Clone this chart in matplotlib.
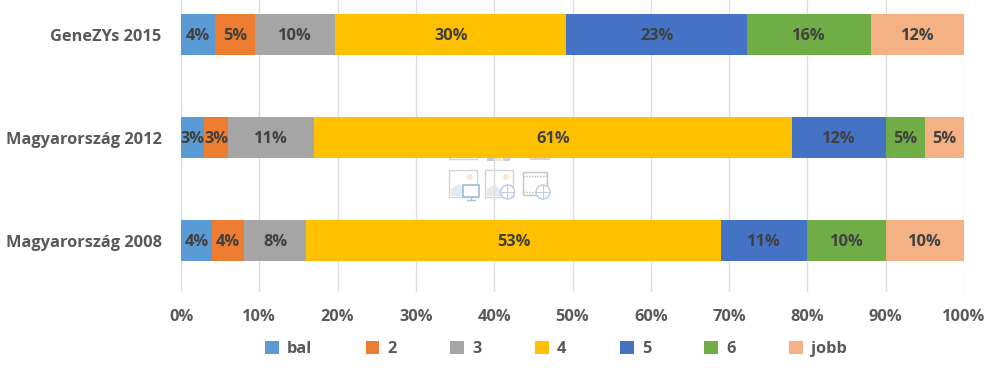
"""
Stacked 100% bars: political self placement, with the faint placeholder icons left in the picture
"""

import matplotlib
matplotlib.use('Agg')
import matplotlib.pyplot as plt
from matplotlib.patches import Rectangle, Circle, Polygon

W, H = 998, 370

categories = ['Magyarország 2008', 'Magyarország 2012', 'GeneZYs 2015']
series_names = ['bal', '2', '3', '4', '5', '6', 'jobb']
series_colors = ['#5B9BD5', '#ED7D31', '#A5A5A5', '#FFC000', '#4472C4', '#70AD47', '#F4B183']

bal = [4, 3, 4.4]
ketto = [4, 3, 5.1]
harom = [8, 11, 10.2]
negy = [53, 61, 29.5]
ot = [11, 12, 23.1]
hat = [10, 5, 15.8]
jobb = [10, 5, 11.9]
series_values = [bal, ketto, harom, negy, ot, hat, jobb]

# labels are rounded differently from the bar lengths on the top row
series_labels = [
    ['4%', '3%', '4%'],
    ['4%', '3%', '5%'],
    ['8%', '11%', '10%'],
    ['53%', '61%', '30%'],
    ['11%', '12%', '23%'],
    ['10%', '5%', '16%'],
    ['10%', '5%', '12%'],
]
x_ticks = [0, 10, 20, 30, 40, 50, 60, 70, 80, 90, 100]

plt.rcParams['font.family'] = ['Open Sans', 'DejaVu Sans']
plt.rcParams['font.weight'] = 'bold'

TEXT = '#595959'
LABEL = '#404040'
GRID = '#DEDEDE'
ICON = '#D4D4D4'
FONT_SIZE = 11.8


def draw_icons(ax):
    """Faint picture placeholders, in pixel coordinates (y down)"""
    def frame(x0, y0, x1, y1, color=ICON, fill='white', lw=1.0):
        ax.add_patch(Rectangle((x0, y0), x1 - x0, y1 - y0, fc=fill, ec=color, lw=lw))

    def picture(x0):
        frame(x0, 170, x0 + 28, 197)
        ax.add_patch(Polygon([(x0 + 2, 196), (x0 + 2, 189), (x0 + 10, 184), (x0 + 22, 196)],
                             fc='#E4E9F2', ec='none'))
        ax.add_patch(Circle((x0 + 21, 177), 3, fc='#FBE8CE', ec='none'))

    def globe(cx, cy):
        ax.add_patch(Circle((cx, cy), 7, fc='white', ec='#BCCDE0', lw=1.0))
        ax.plot([cx - 7, cx + 7], [cy, cy], color='#BCCDE0', lw=0.7)
        ax.plot([cx, cx], [cy - 7, cy + 7], color='#BCCDE0', lw=0.7)

    # top row, mostly hidden behind the bar
    frame(449, 150, 477, 159)
    ax.add_patch(Rectangle((487, 158), 7, 3, fc='#C3CBD8', ec='none'))
    ax.add_patch(Rectangle((495, 158), 7, 3, fc='#F6E6C4', ec='none'))
    ax.add_patch(Rectangle((503, 158), 7, 3, fc='#CFCFCF', ec='none'))
    ax.add_patch(Rectangle((530, 158), 20, 2, fc='#DDD5C0', ec='none'))

    picture(449)
    frame(463, 185, 479, 197, color='#A9C0D8', lw=1.3)
    ax.plot([471, 471], [197, 200], color='#A9C0D8', lw=1.0)
    ax.plot([467, 475], [200, 200], color='#A9C0D8', lw=1.0)

    picture(485)
    globe(507.5, 192)

    frame(523, 172, 547, 195, color='#C4C4C4')
    ax.plot([523, 547], [176, 176], color='#C4C4C4', lw=1.0, ls=(0, (1.2, 0.8)))
    ax.plot([523, 535], [192, 192], color='#C4C4C4', lw=1.0, ls=(0, (1.2, 0.8)))
    globe(543, 192)


fig = plt.figure(figsize=(W / 100, H / 100), dpi=100, facecolor='white')

# icon layer sits under the transparent chart axes
icons = fig.add_axes([0, 0, 1, 1], zorder=0)
icons.set_xlim(0, W)
icons.set_ylim(H, 0)
icons.axis('off')
draw_icons(icons)

left, right, top, bottom = 181, 964, 0, 292
ax = fig.add_axes([left / W, 1 - bottom / H, (right - left) / W, (bottom - top) / H], zorder=1)
ax.patch.set_alpha(0)

y_pos = list(range(len(categories)))
lefts = [0.0] * len(categories)
for name, values, labels, color in zip(series_names, series_values, series_labels, series_colors):
    bars = ax.barh(y_pos, values, left=lefts, height=0.4, color=color, label=name, zorder=3)
    texts = ax.bar_label(bars, labels=labels, label_type='center', color=LABEL,
                         fontsize=FONT_SIZE, fontweight='bold')
    for t in texts:
        t.xyann = (0, -1.0)
    lefts = [a + b for a, b in zip(lefts, values)]

# one category band is 103 px, the plot area is cut off at the top of the image
ax.set_ylim(-0.5, -0.5 + (bottom - top) / 103)
ax.set_xlim(0, 100)
ax.set_yticks(y_pos)
ax.set_yticklabels(categories, fontsize=FONT_SIZE, color=TEXT, fontweight='bold')
ax.set_xticks(x_ticks)
ax.set_xticklabels([f'{t}%' for t in x_ticks], fontsize=FONT_SIZE, color=TEXT, fontweight='bold')
ax.tick_params(axis='both', length=0)
ax.tick_params(axis='x', pad=12.5)
ax.tick_params(axis='y', pad=14)
ax.grid(axis='x', color=GRID, lw=1.0, zorder=0)
ax.set_axisbelow(True)
for spine in ax.spines.values():
    spine.set_visible(False)

ax.legend(loc='center', bbox_to_anchor=(556 / W, 1 - 349 / H), bbox_transform=fig.transFigure,
          ncol=7, frameon=False, fontsize=FONT_SIZE, labelcolor=TEXT, handlelength=0.85,
          handleheight=0.85, handletextpad=0.5, columnspacing=3.25)

fig.savefig('out.png', dpi=100, facecolor='white')
